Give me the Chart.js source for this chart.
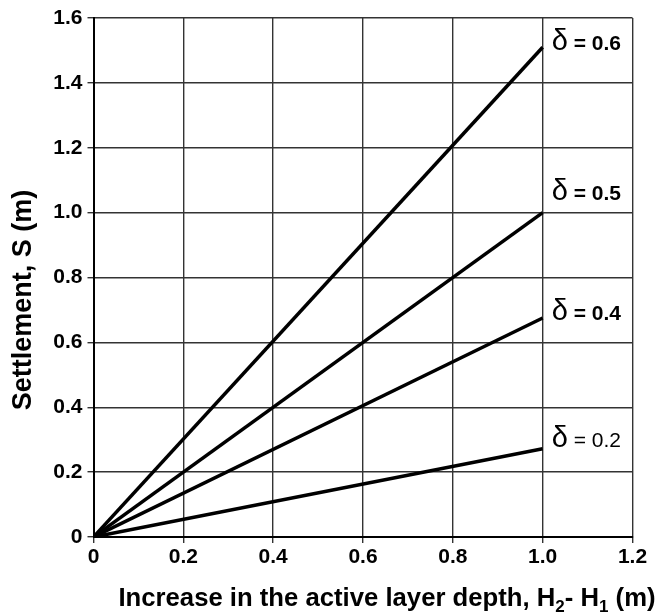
<!DOCTYPE html>
<html>
<head>
<meta charset="utf-8">
<script src="https://cdn.jsdelivr.net/npm/chart.js@4"></script>
<style>
  html, body { margin: 0; padding: 0; background: #fff; }
  #wrap { width: 661px; height: 614px; position: relative; }
</style>
</head>
<body>
<div id="wrap"><canvas id="c"></canvas></div>
<script>
// ---- data ----
const deltaLabels = ['0.6', '0.5', '0.4', '0.2'];
const depthIncrease = [0, 1.0];             // H2 - H1 (m)
const settle06 = [0, 1.51];
const settle05 = [0, 1.0];
const settle04 = [0, 0.675];
const settle02 = [0, 0.272];
const labelBaseY = [1.50, 1.04, 0.67, 0.277]; // where each δ label sits (data units)
const xTicks = [0, 0.2, 0.4, 0.6, 0.8, 1.0, 1.2];
const yTicks = [0, 0.2, 0.4, 0.6, 0.8, 1.0, 1.2, 1.4, 1.6];
const xTitleParts = [['Increase in the active layer depth, H', false], ['2', true], ['- H', false], ['1', true], [' (m)', false]];
const yTitle = 'Settlement, S (m)';

const allSeries = [settle06, settle05, settle04, settle02];
const fmt = v => (Math.abs(v) < 1e-9 ? '0' : v.toFixed(1));
const FONT = "'Liberation Sans', Arial, sans-serif";

const datasets = allSeries.map((s, i) => ({
  label: 'δ = ' + deltaLabels[i],
  data: depthIncrease.map((x, j) => ({ x: x, y: s[j] })),
  borderColor: '#000',
  borderWidth: 3.5,
  pointRadius: 0,
  fill: false,
  tension: 0
}));

const annot = {
  id: 'annot',
  afterDraw(chart) {
    const ctx = chart.ctx;
    const xs = chart.scales.x, ys = chart.scales.y;
    ctx.save();
    ctx.fillStyle = '#000';
    // delta labels
    allSeries.forEach((s, i) => {
      const px = xs.getPixelForValue(depthIncrease[depthIncrease.length - 1]) + 9;
      const py = ys.getPixelForValue(labelBaseY[i]);
      ctx.textBaseline = 'alphabetic';
      ctx.textAlign = 'left';
      ctx.font = "normal 29px " + FONT;
      ctx.fillText('δ', px, py);
      ctx.font = (i < 3 ? 'bold ' : 'normal ') + "21px " + FONT;
      ctx.fillText('= ' + deltaLabels[i], px + 22, py);
    });
    // x title with subscripts
    const big = "bold 25.7px " + FONT, small = "bold 17px " + FONT;
    let total = 0;
    xTitleParts.forEach(([t, sub]) => { ctx.font = sub ? small : big; total += ctx.measureText(t).width; });
    let cx = 387 - total / 2;
    const base = 606;
    xTitleParts.forEach(([t, sub]) => {
      ctx.font = sub ? small : big;
      ctx.fillText(t, cx, sub ? base + 6 : base);
      cx += ctx.measureText(t).width;
    });
    // y title
    ctx.translate(31, 300);
    ctx.rotate(-Math.PI / 2);
    ctx.font = "bold 27px " + FONT;
    ctx.textAlign = 'center';
    ctx.textBaseline = 'alphabetic';
    ctx.fillText(yTitle, 0, 0);
    ctx.restore();
  }
};

new Chart(document.getElementById('c'), {
  type: 'line',
  data: { datasets: datasets },
  plugins: [annot],
  options: {
    responsive: true,
    maintainAspectRatio: false,
    animation: false,
    layout: { padding: { top: 18, right: 28.5, left: 0, bottom: 0 } },
    plugins: { legend: { display: false }, tooltip: { enabled: false } },
    scales: {
      x: {
        type: 'linear', min: 0, max: 1.2,
        afterBuildTicks: a => { a.ticks = xTicks.map(v => ({ value: v })); },
        afterFit: a => { a.height = 77; },
        ticks: { callback: v => fmt(v), color: '#000', font: { family: FONT, size: 21, weight: 'bold' }, padding: 2, maxRotation: 0 },
        grid: { color: '#333', lineWidth: 1.4, tickLength: 6, tickColor: '#333' },
        border: { color: '#000', width: 2 }
      },
      y: {
        type: 'linear', min: 0, max: 1.6,
        afterBuildTicks: a => { a.ticks = yTicks.map(v => ({ value: v })); },
        afterFit: a => { a.width = 93.5; },
        ticks: { callback: v => fmt(v), color: '#000', font: { family: FONT, size: 21, weight: 'bold' }, padding: 5 },
        grid: { color: '#333', lineWidth: 1.4, tickLength: 6, tickColor: '#333' },
        border: { color: '#000', width: 2 }
      }
    }
  }
});
</script>
</body>
</html>
